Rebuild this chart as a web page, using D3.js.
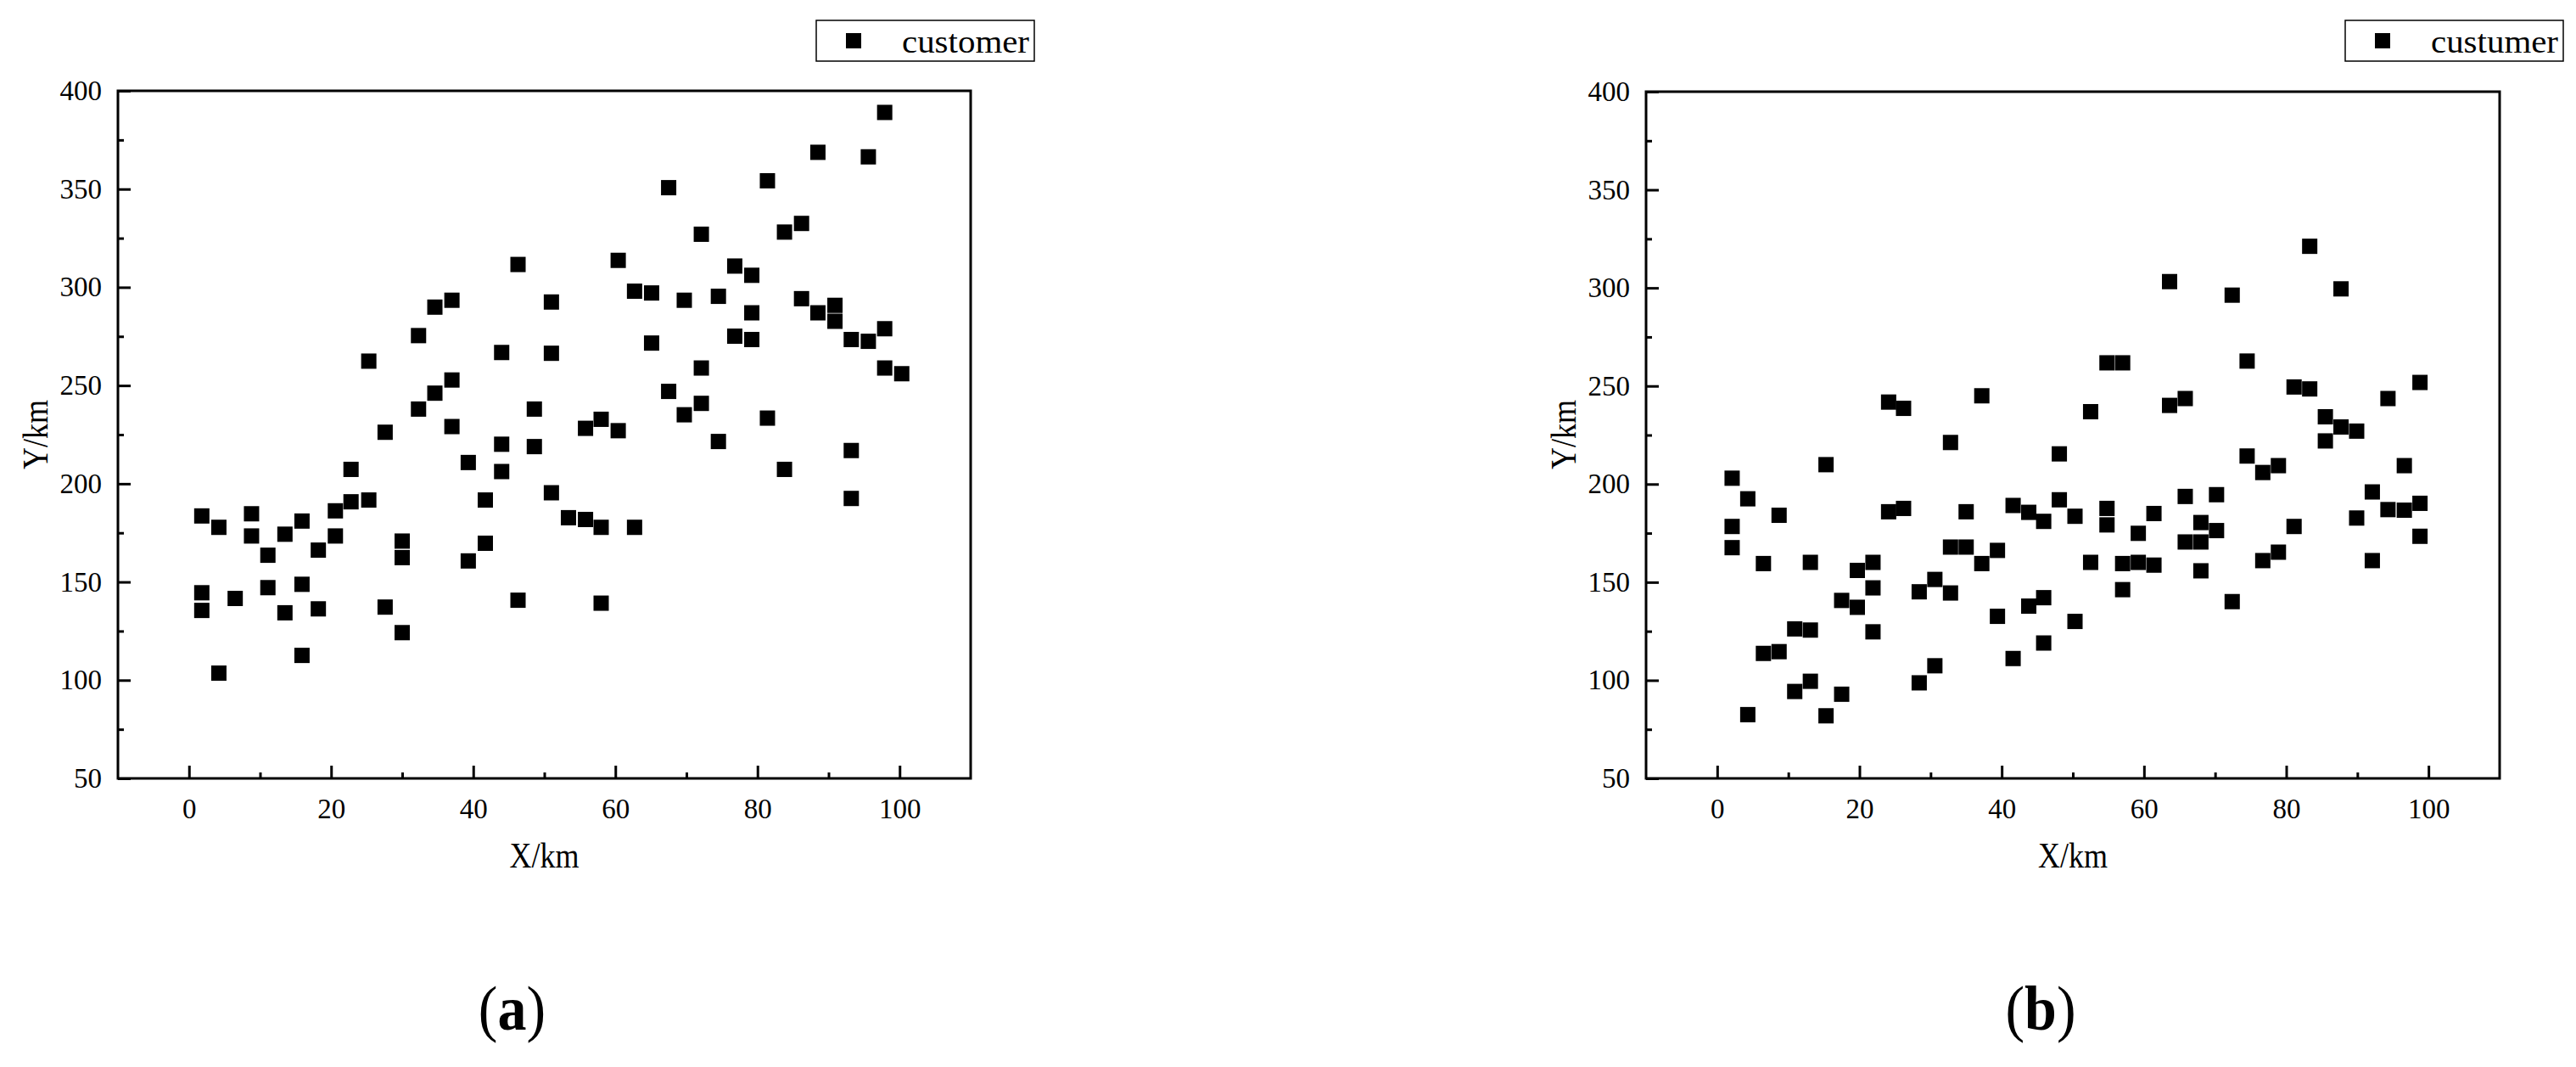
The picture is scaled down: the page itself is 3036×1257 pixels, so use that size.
<!DOCTYPE html>
<html>
<head>
<meta charset="utf-8">
<script src="https://cdn.jsdelivr.net/npm/d3@7"></script>
<style>
body { margin: 0; background: #fff; }
svg { display: block; }
text { font-family: "Liberation Serif", "Times New Roman", serif; fill: #000; }
</style>
</head>
<body>
<svg id="chart" width="3036" height="1257"></svg>
<script>
"use strict";

// tick values
const xTicks = [0, 20, 40, 60, 80, 100];
const xMinor = [10, 30, 50, 70, 90];
const yTicks = [50, 100, 150, 200, 250, 300, 350, 400];
const yMinor = [75, 125, 175, 225, 275, 325, 375];

// panel (a) customers
const xA = [1.8, 4.2, 1.8, 1.8, 4.2, 6.5, 8.8, 8.8, 11.1, 11.1, 13.5, 13.5, 15.9, 15.9, 15.9, 18.2, 18.2, 20.6, 20.6, 22.8,
	22.8, 25.3, 25.3, 27.6, 27.6, 30.0, 30.0, 30.0, 32.3, 32.3, 34.6, 34.6, 37.0, 37.0, 37.0, 39.3, 39.3, 41.7, 41.7, 44.0,
	44.0, 44.0, 46.3, 46.3, 48.6, 48.6, 51.0, 51.0, 51.0, 53.4, 55.8, 55.8, 58.0, 58.0, 58.0, 60.4, 60.4, 62.7, 62.7, 65.1,
	65.1, 67.5, 67.5, 69.7, 69.7, 72.1, 72.1, 72.1, 74.5, 74.5, 76.8, 76.8, 79.2, 79.2, 79.2, 81.4, 81.4, 83.8, 83.8, 86.2,
	86.2, 88.5, 88.5, 90.9, 90.9, 93.2, 93.2, 93.2, 95.6, 95.6, 97.9, 97.9, 97.9, 100.3];
const yA = [183.6, 177.8, 144.5, 135.5, 103.6, 141.6, 184.7, 173.4, 163.6, 147.1, 174.3, 134.3, 181.0, 148.8, 112.6, 166.2, 136.3, 186.2, 173.4, 207.3,
	190.8, 262.4, 191.7, 226.2, 137.2, 170.8, 162.4, 124.2, 275.4, 238.0, 289.9, 246.1, 293.4, 252.8, 229.1, 210.8, 160.7, 191.7, 169.7, 266.8,
	220.1, 206.2, 311.6, 140.7, 238.0, 218.9, 292.5, 266.4, 195.4, 182.7, 181.8, 228.2, 232.8, 177.8, 139.2, 313.7, 227.0, 298.0, 177.8, 297.1,
	271.6, 350.7, 247.0, 293.4, 235.1, 327.0, 258.9, 240.9, 295.4, 221.5, 310.8, 275.1, 306.1, 287.0, 273.4, 354.2, 233.4, 328.1, 207.3, 332.5,
	294.2, 368.7, 287.0, 290.8, 282.7, 273.4, 216.9, 192.5, 366.4, 272.5, 389.0, 278.9, 258.9, 256.0];

// panel (b) customers
const xB = [2.1, 2.1, 2.1, 4.3, 4.3, 6.5, 6.5, 8.7, 8.7, 10.9, 10.9, 13.1, 13.1, 13.1, 15.3, 15.3, 17.5, 17.5, 19.7, 19.7,
	21.9, 21.9, 21.9, 24.1, 24.1, 26.2, 26.2, 28.4, 28.4, 30.6, 30.6, 32.8, 32.8, 32.8, 35.0, 35.0, 37.2, 37.2, 39.4, 39.4,
	41.6, 41.6, 43.8, 43.8, 45.9, 45.9, 45.9, 48.1, 48.1, 50.3, 50.3, 52.5, 52.5, 54.8, 54.8, 54.8, 57.0, 57.0, 57.0, 59.2,
	59.2, 61.4, 61.4, 63.6, 63.6, 65.8, 65.8, 65.8, 68.0, 68.0, 68.0, 70.2, 70.2, 72.4, 72.4, 74.5, 74.5, 76.7, 76.7, 78.9,
	78.9, 81.1, 81.1, 83.3, 83.3, 85.5, 85.5, 87.7, 87.7, 89.9, 89.9, 92.1, 92.1, 94.3, 94.3, 96.6, 96.6, 98.8, 98.8, 98.8];
const yB = [203.0, 178.4, 167.6, 192.5, 82.5, 159.5, 113.7, 184.1, 114.6, 126.2, 94.3, 160.1, 125.6, 99.5, 209.9, 81.9, 140.7, 92.9, 156.0, 137.2,
	160.1, 147.1, 124.7, 241.8, 185.9, 238.6, 187.6, 145.1, 98.7, 151.4, 107.4, 221.2, 167.9, 144.5, 167.9, 185.9, 245.0, 159.5, 166.2, 132.6,
	189.1, 111.1, 185.6, 137.8, 181.0, 142.1, 119.0, 215.4, 192.0, 183.6, 130.0, 236.9, 160.1, 261.8, 187.6, 179.2, 261.8, 159.5, 146.2, 174.9,
	160.1, 158.7, 185.0, 303.2, 240.1, 243.6, 193.7, 170.5, 180.4, 170.5, 155.8, 194.6, 176.3, 296.3, 140.1, 262.7, 214.3, 205.9, 161.0, 209.4,
	165.3, 249.5, 178.4, 321.2, 248.5, 234.3, 222.0, 299.5, 229.1, 227.0, 182.7, 196.0, 161.0, 243.6, 187.0, 209.4, 186.7, 251.8, 190.2, 173.4];

const seriesNames = ["customer", "custumer"];
const panelTags = ["a", "b"];

const FONT = "Liberation Serif";
const svg = d3.select("#chart");

const panels = [
	{ xs: xA, ys: yA, name: seriesNames[0], tag: panelTags[0], left: 139, right: 1144, top: 107, bottom: 917 },
	{ xs: xB, ys: yB, name: seriesNames[1], tag: panelTags[1], left: 1940, right: 2946, top: 108, bottom: 917 }
];

function drawPanel(p)
{
	let w = p.right - p.left, h = p.bottom - p.top;
	let x = d3.scaleLinear().domain([-10, 110]).range([0, w]);
	let y = d3.scaleLinear().domain([50, 400]).range([h, 0]);

	let g = svg.append("g").attr("transform", `translate(${p.left},${p.top})`);

	//bottom axis, major then minor ticks, all pointing inward
	g.append("g").attr("transform", `translate(0,${h})`)
		.call(d3.axisBottom(x).tickValues(xTicks).tickSizeInner(-15).tickSizeOuter(0).tickPadding(24));
	g.append("g").attr("transform", `translate(0,${h})`)
		.call(d3.axisBottom(x).tickValues(xMinor).tickSizeInner(-7).tickSizeOuter(0).tickFormat(() => ""));

	g.append("g")
		.call(d3.axisLeft(y).tickValues(yTicks).tickSizeInner(-15).tickSizeOuter(0).tickPadding(19));
	g.append("g")
		.call(d3.axisLeft(y).tickValues(yMinor).tickSizeInner(-7).tickSizeOuter(0).tickFormat(() => ""));

	g.selectAll(".domain").remove();
	g.selectAll(".tick line").attr("stroke", "#000").attr("stroke-width", 3);
	g.selectAll("g").attr("font-family", FONT).attr("font-size", 33);
	g.selectAll(".tick text").attr("font-family", FONT).attr("font-size", 33);

	//frame
	g.append("rect")
		.attr("x", 0).attr("y", 0).attr("width", w).attr("height", h)
		.attr("fill", "none").attr("stroke", "#000").attr("stroke-width", 3);

	//points
	g.append("g").selectAll("rect")
		.data(d3.range(p.xs.length))
		.join("rect")
		.attr("x", i => x(p.xs[i]) - 9)
		.attr("y", i => y(p.ys[i]) - 9)
		.attr("width", 18).attr("height", 18)
		.attr("fill", "#000");

	//axis titles
	svg.append("text")
		.attr("transform", `translate(${p.left + w / 2},1022) scale(1,1.2)`)
		.attr("text-anchor", "middle").attr("font-family", FONT).attr("font-size", 36)
		.text("X/km");
	svg.append("text")
		.attr("transform", `translate(${p.left - 83},512) rotate(-90) scale(1,1.2)`)
		.attr("text-anchor", "middle").attr("font-family", FONT).attr("font-size", 36)
		.text("Y/km");

	//legend
	let lg = svg.append("g").attr("transform", `translate(${p.right},0)`);
	lg.append("rect")
		.attr("x", -182).attr("y", 24).attr("width", 257).attr("height", 48)
		.attr("fill", "#fff").attr("stroke", "#000").attr("stroke-width", 1.5);
	lg.append("rect")
		.attr("x", -147).attr("y", 39).attr("width", 18).attr("height", 18)
		.attr("fill", "#000");
	lg.append("text")
		.attr("x", -81).attr("y", 62)
		.attr("font-family", FONT).attr("font-size", 38)
		.attr("textLength", 150).attr("lengthAdjust", "spacingAndGlyphs")
		.text(p.name);

	//panel tag
	let t = svg.append("text")
		.attr("transform", `translate(${p.left + w / 2 - 38},1213) scale(1,1.1)`)
		.attr("text-anchor", "middle").attr("font-family", FONT).attr("font-size", 68);
	t.append("tspan").text("(");
	t.append("tspan").attr("font-weight", "bold").text(p.tag);
	t.append("tspan").text(")");
}

panels.forEach(drawPanel);
</script>
</body>
</html>
